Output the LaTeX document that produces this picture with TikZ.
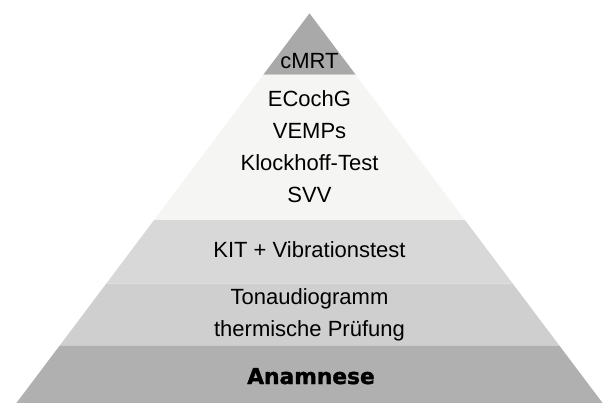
\documentclass[tikz,border=0pt]{standalone}
\usepackage{fontspec}
\setmainfont{Liberation Sans}
\newfontfamily\anafont{DejaVu Sans Bold}[FakeBold=1.6]
\definecolor{bandA}{HTML}{A9A9A9}
\definecolor{bandB}{HTML}{F5F5F3}
\definecolor{bandC}{HTML}{D8D8D8}
\definecolor{bandD}{HTML}{CFCFCF}
\definecolor{bandE}{HTML}{B0B0B0}
\begin{document}
\begin{tikzpicture}[x=0.75pt,y=-0.75pt,
  lbl/.style={anchor=base, inner sep=0pt, font=\fontsize{16.5}{19}\selectfont},
  ana/.style={anchor=base, inner sep=0pt, font=\anafont\fontsize{16.3}{19}\selectfont},
  sep/.style={draw=white, opacity=0.35, line width=0.75pt}]
\useasboundingbox (0,0) rectangle (608,403);
\coordinate (apex) at (309.5,13.3);
\coordinate (l1) at (263.1,75);  \coordinate (r1) at (355.9,75);
\coordinate (l2) at (154.1,220); \coordinate (r2) at (464.9,220);
\coordinate (l3) at (106.7,283); \coordinate (r3) at (512.3,283);
\coordinate (l4) at (60.1,345);  \coordinate (r4) at (558.9,345);
\coordinate (l5) at (16.4,403);  \coordinate (r5) at (602.6,403);
\fill[bandA] (apex) -- (r1) -- (l1) -- cycle;
\fill[bandB] (l1) -- (r1) -- (r2) -- (l2) -- cycle;
\fill[bandC] (l2) -- (r2) -- (r3) -- (l3) -- cycle;
\fill[bandD] (l3) -- (r3) -- (r4) -- (l4) -- cycle;
\fill[bandE] (l4) -- (r4) -- (r5) -- (l5) -- cycle;
\draw[sep] (l1) -- (r1);
\draw[sep] (l2) -- (r2);
\draw[sep] (l3) -- (r3);
\draw[sep] (l4) -- (r4);
\node[lbl] (cmrt) at (309.5,68.3) {cMRT};
\node[lbl] (ecochg) at (309.5,106.7) {ECochG};
\node[lbl] (vemps) at (309.5,139) {VEMPs};
\node[lbl] (klock) at (309.5,171) {Klockhoff-Test};
\node[lbl] (svv) at (309.5,202.7) {SVV};
\node[lbl] (kit) at (309.5,257.7) {KIT + Vibrationstest};
\node[lbl] (ton) at (309.5,305) {Tonaudiogramm};
\node[lbl] (therm) at (309.5,336) {thermische Prüfung};
\node[ana] (anam) at (311,384) {Anamnese};
\end{tikzpicture}
\end{document}
